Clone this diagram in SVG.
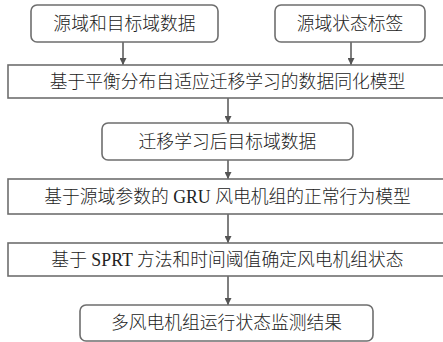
<svg xmlns="http://www.w3.org/2000/svg" width="443" height="342" viewBox="0 0 443 342">
<defs>
<style>
.box{fill:#fff;stroke:#6e6e6e;stroke-width:1.6}
.t{font-family:"Liberation Serif","Noto Sans CJK SC",serif;font-size:17.8px;font-weight:300;fill:#222;text-anchor:middle;dominant-baseline:central}
.c{stroke:#555;stroke-width:1.5;fill:none}
</style>
<marker id="ah" viewBox="0 0 10 10" refX="10" refY="5" markerWidth="7" markerHeight="7" markerUnits="userSpaceOnUse" orient="auto">
<path d="M0,0 L10,5 L0,10 z" fill="#555"/>
</marker>
</defs>
<rect width="443" height="342" fill="#fff"/>
<g id="connectors">
<line class="c" x1="123" y1="42" x2="123" y2="65" marker-end="url(#ah)"/>
<line class="c" x1="351" y1="42" x2="351" y2="65" marker-end="url(#ah)"/>
<line class="c" x1="228" y1="98" x2="228" y2="123" marker-end="url(#ah)"/>
<line class="c" x1="228" y1="160" x2="228" y2="179" marker-end="url(#ah)"/>
<line class="c" x1="228" y1="214" x2="228" y2="243" marker-end="url(#ah)"/>
<line class="c" x1="228" y1="276" x2="228" y2="305" marker-end="url(#ah)"/>
</g>
<g id="n1"><rect class="box" x="31" y="5" width="187" height="37" rx="6"/><text class="t" x="124.5" y="23.5">源域和目标域数据</text></g>
<g id="n2"><rect class="box" x="275" y="5" width="150" height="37" rx="6"/><text class="t" x="350" y="23.5">源域状态标签</text></g>
<g id="n3"><rect class="box" x="8" y="65" width="445" height="33"/><text class="t" x="227.5" y="81.5">基于平衡分布自适应迁移学习的数据同化模型</text></g>
<g id="n4"><rect class="box" x="102" y="123" width="251" height="37" rx="6"/><text class="t" x="227.5" y="141.5">迁移学习后目标域数据</text></g>
<g id="n5"><rect class="box" x="8" y="179" width="445" height="35"/><text class="t" x="227.5" y="196.5">基于源域参数的 GRU 风电机组的正常行为模型</text></g>
<g id="n6"><rect class="box" x="8" y="243" width="445" height="33"/><text class="t" x="227.5" y="259.5">基于 SPRT 方法和时间阈值确定风电机组状态</text></g>
<g id="n7"><rect class="box" x="80" y="305" width="293" height="36" rx="6"/><text class="t" x="226.5" y="323">多风电机组运行状态监测结果</text></g>
</svg>
